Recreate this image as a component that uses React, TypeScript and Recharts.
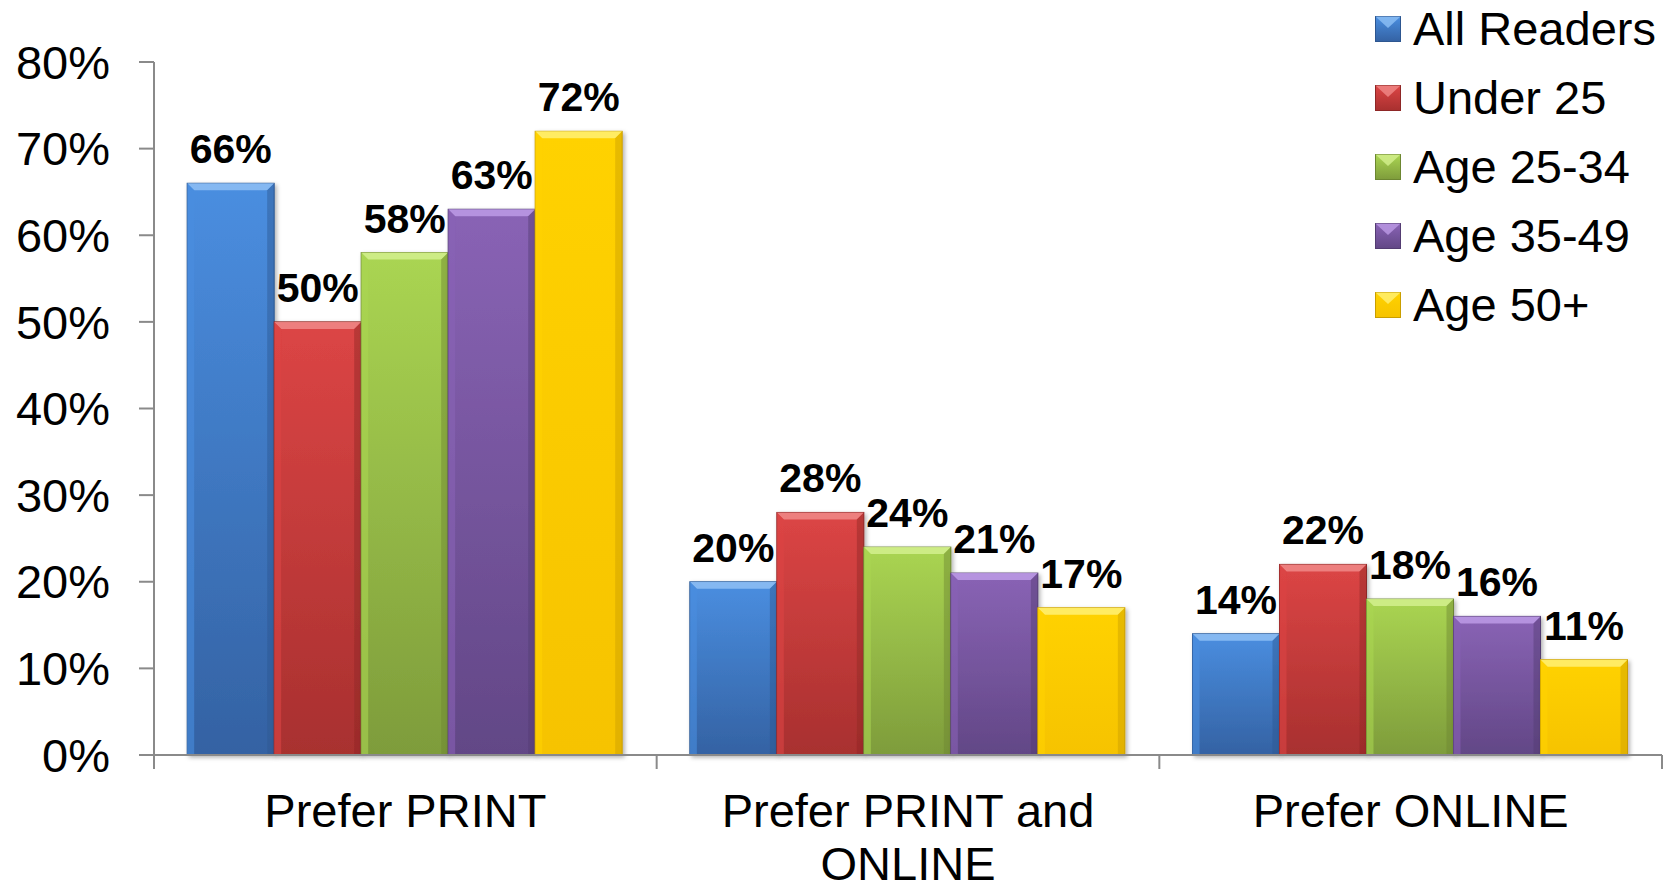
import React from "react";
import {
  Bar,
  BarChart,
  LabelList,
  Legend,
  XAxis,
  YAxis,
} from "recharts";

const categories = ["Prefer PRINT", "Prefer PRINT and ONLINE", "Prefer ONLINE"];
const allReaders = [66, 20, 14];
const under25 = [50, 28, 22];
const age25to34 = [58, 24, 18];
const age35to49 = [63, 21, 16];
const age50plus = [72, 17, 11];
const yTicks = [0, 10, 20, 30, 40, 50, 60, 70, 80];

const FONT = "'Liberation Sans', Arial, Helvetica, sans-serif";
const AXIS_GREY = "#8a8a8a";

const series = [
  { key: "all", name: "All Readers", values: allReaders, top: "#4a8ee0", bottom: "#3462a3", edge: "#2d5690", light: "#8fc0f5" },
  { key: "u25", name: "Under 25", values: under25, top: "#dc4545", bottom: "#a8302f", edge: "#8e2726", light: "#f08a88" },
  { key: "a2534", name: "Age 25-34", values: age25to34, top: "#aad552", bottom: "#7e9c3b", edge: "#6c8631", light: "#d4f08e" },
  { key: "a3549", name: "Age 35-49", values: age35to49, top: "#8963b5", bottom: "#624786", edge: "#533c72", light: "#bd9be6" },
  { key: "a50", name: "Age 50+", values: age50plus, top: "#ffd200", bottom: "#f6c300", edge: "#c99e00", light: "#fff176" },
];

const data = categories.map((category, i) => {
  const row: Record<string, string | number> = { category };
  series.forEach((s) => {
    row[s.key] = s.values[i];
  });
  return row;
});

type Tone = (typeof series)[number];

// greedy word wrap, like the source chart's category labels
function wrapWords(text: string, maxChars: number) {
  const lines: string[] = [];
  let line = "";
  text.split(" ").forEach((w) => {
    const next = line ? `${line} ${w}` : w;
    if (next.length > maxChars && line) {
      lines.push(line);
      line = w;
    } else {
      line = next;
    }
  });
  if (line) lines.push(line);
  return lines;
}

function BevelBar(props: any) {
  const { x, y, width, height, tone } = props as {
    x: number;
    y: number;
    width: number;
    height: number;
    tone: Tone;
  };
  if (!height || height <= 0) return null;
  const b = Math.min(7, height / 2);
  return (
    <g filter="url(#barShadow)">
      <rect x={x} y={y} width={width} height={height} fill={`url(#grad-${tone.key})`} stroke={tone.edge} strokeWidth={1} />
      <polygon
        points={`${x},${y} ${x + width},${y} ${x + width - b},${y + b} ${x + b},${y + b}`}
        fill={tone.light}
        opacity={0.85}
      />
      <polygon
        points={`${x},${y} ${x + b},${y + b} ${x + b},${y + height} ${x},${y + height}`}
        fill={tone.top}
        opacity={0.6}
      />
      <polygon
        points={`${x + width},${y} ${x + width - b},${y + b} ${x + width - b},${y + height} ${x + width},${y + height}`}
        fill={tone.edge}
        opacity={0.45}
      />
    </g>
  );
}

// category label plus tick marks on the band edges (Excel puts ticks between categories)
function CategoryTick(props: any) {
  const { x, y, payload, index, visibleTicksCount } = props;
  const half = payload.offset || 0;
  const lines = wrapWords(String(payload.value), 18);
  const isLast = index === visibleTicksCount - 1;
  return (
    <g>
      <line x1={x - half} y1={y} x2={x - half} y2={y + 14} stroke={AXIS_GREY} strokeWidth={2} />
      {isLast && (
        <line x1={x + half} y1={y} x2={x + half} y2={y + 14} stroke={AXIS_GREY} strokeWidth={2} />
      )}
      <text x={x} y={y + 72} textAnchor="middle" fontSize={47} fontFamily={FONT} fill="#000">
        {lines.map((l, i) => (
          <tspan key={i} x={x} dy={i === 0 ? 0 : 53}>
            {l}
          </tspan>
        ))}
      </text>
    </g>
  );
}

function LegendSwatch({ tone }: { tone: Tone }) {
  return (
    <svg width={26} height={26} style={{ display: "block" }}>
      <defs>
        <linearGradient id={`lg-${tone.key}`} x1="0" y1="0" x2="0" y2="1">
          <stop offset="0%" stopColor={tone.top} />
          <stop offset="100%" stopColor={tone.bottom} />
        </linearGradient>
      </defs>
      <rect x={0.5} y={0.5} width={25} height={25} fill={`url(#lg-${tone.key})`} stroke={tone.edge} />
      <polygon points="0.5,0.5 25.5,0.5 13,12" fill={tone.light} opacity={0.8} />
    </svg>
  );
}

function VerticalLegend() {
  return (
    <div style={{ fontFamily: FONT, fontSize: 47, lineHeight: "69px", color: "#000" }}>
      {series.map((s) => (
        <div key={s.key} style={{ display: "flex", alignItems: "center", whiteSpace: "nowrap" }}>
          <LegendSwatch tone={s} />
          <span style={{ marginLeft: 12 }}>{s.name}</span>
        </div>
      ))}
    </div>
  );
}

export default function App() {
  return (
    <div style={{ width: 1660, height: 877, background: "#fff" }}>
      <BarChart
        width={1660}
        height={877}
        data={data}
        margin={{ top: 54, right: 6, left: 0, bottom: 0 }}
        barCategoryGap="6.6%"
        barGap={0}
      >
        <defs>
          <filter id="barShadow" x="-10%" y="-10%" width="130%" height="130%">
            <feDropShadow dx={2} dy={2} stdDeviation={2} floodColor="#000" floodOpacity={0.3} />
          </filter>
          {series.map((s) => (
            <linearGradient key={s.key} id={`grad-${s.key}`} x1="0" y1="0" x2="0" y2="1">
              <stop offset="0%" stopColor={s.top} />
              <stop offset="100%" stopColor={s.bottom} />
            </linearGradient>
          ))}
        </defs>
        <XAxis
          dataKey="category"
          height={130}
          interval={0}
          axisLine={{ stroke: AXIS_GREY, strokeWidth: 2 }}
          tickLine={false}
          tickSize={0}
          tickMargin={0}
          tick={<CategoryTick />}
        />
        <YAxis
          width={146}
          domain={[0, 80]}
          ticks={yTicks}
          interval={0}
          tickFormatter={(v: number) => `${v}%`}
          tickSize={15}
          tickMargin={29}
          axisLine={{ stroke: AXIS_GREY, strokeWidth: 2 }}
          tickLine={{ stroke: AXIS_GREY, strokeWidth: 2 }}
          tick={{ fontSize: 47, fontFamily: FONT, fill: "#000" }}
        />
        <Legend
          layout="horizontal"
          verticalAlign="middle"
          align="center"
          content={() => <VerticalLegend />}
          wrapperStyle={{ top: -14, left: 1367, width: 290, height: 345 }}
        />
        {series.map((s) => (
          <Bar
            key={s.key}
            dataKey={s.key}
            name={s.name}
            fill={s.top}
            isAnimationActive={false}
            shape={(p: any) => <BevelBar {...p} tone={s} />}
          >
            <LabelList
              dataKey={s.key}
              position="top"
              offset={20}
              formatter={(v: any) => `${v}%`}
              style={{ fontSize: 41, fontWeight: 700, fontFamily: FONT, fill: "#000" }}
            />
          </Bar>
        ))}
      </BarChart>
    </div>
  );
}
